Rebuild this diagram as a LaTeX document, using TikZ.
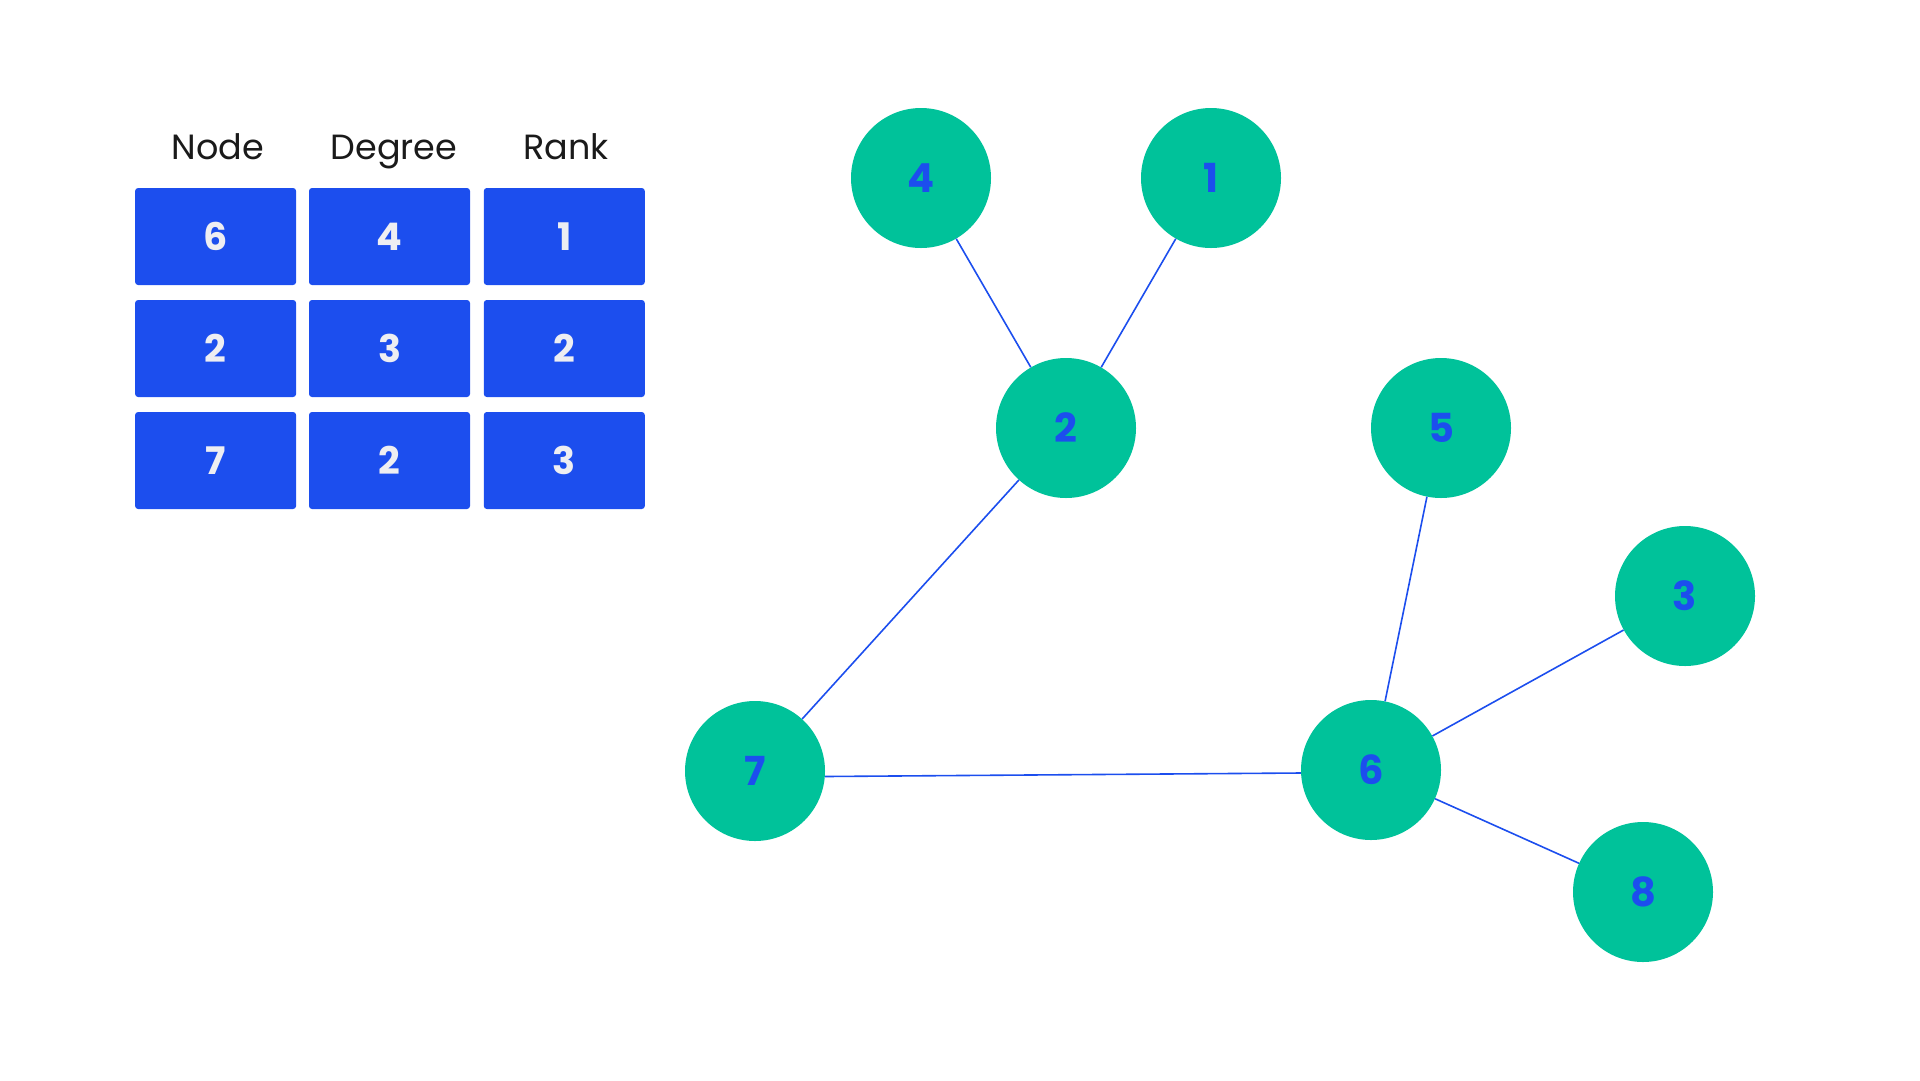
\documentclass[tikz,border=0pt]{standalone}
\usepackage{fontspec}
\setmainfont{Poppins}
\definecolor{cblue}{HTML}{1C4EEE}
\definecolor{cgreen}{HTML}{00C29A}
\definecolor{ctxt}{HTML}{EEEEF2}
\definecolor{chead}{HTML}{1A1A1A}
\begin{document}
\begin{tikzpicture}[x=1pt,y=-1pt,
  cell/.style={fill=cblue,rounded corners=3pt,minimum width=161pt,minimum height=97pt,inner sep=0pt,
    text=ctxt,font=\fontsize{38}{38}\selectfont\bfseries},
  head/.style={text=chead,font=\fontsize{35}{35}\selectfont,anchor=base,inner sep=0pt},
  gnode/.style={circle,fill=cgreen,minimum size=140pt,inner sep=0pt,text=cblue,
    font=\fontsize{40}{40}\selectfont\bfseries},
  edge/.style={draw=cblue,line width=1.6pt}]
\useasboundingbox (0,0) rectangle (1920,1080);
% table
\node[head] (h1) at (218,159) {Node};
\node[head] (h2) at (394,159) {Degree};
\node[head] (h3) at (566,159) {Rank};
\node[cell] (c11) at (215.6,236.5) {6};
\node[cell] (c12) at (389.5,236.5) {4};
\node[cell] (c13) at (564.3,236.5) {1};
\node[cell] (c21) at (215.6,348.5) {2};
\node[cell] (c22) at (389.5,348.5) {3};
\node[cell] (c23) at (564.3,348.5) {2};
\node[cell] (c31) at (215.6,460.5) {7};
\node[cell] (c32) at (389.5,460.5) {2};
\node[cell] (c33) at (564.3,460.5) {3};
% graph
\node[gnode] (n4) at (921,178) {4};
\node[gnode] (n1) at (1211,178) {1};
\node[gnode] (n2) at (1066,428) {2};
\node[gnode] (n5) at (1441,428) {5};
\node[gnode] (n3) at (1685,596) {3};
\node[gnode] (n7) at (755,771) {7};
\node[gnode] (n6) at (1371,770) {6};
\node[gnode] (n8) at (1643,892) {8};
\draw[edge] (n4) -- (n2);
\draw[edge] (n1) -- (n2);
\draw[edge] (n2) -- (n7);
\draw[edge] ([yshift=-5.5pt]n7.east) -- ([yshift=-3pt]n6.west);
\draw[edge] (n5) -- (n6);
\draw[edge] (n3) -- (n6);
\draw[edge] (n6) -- (n8);
\end{tikzpicture}
\end{document}
